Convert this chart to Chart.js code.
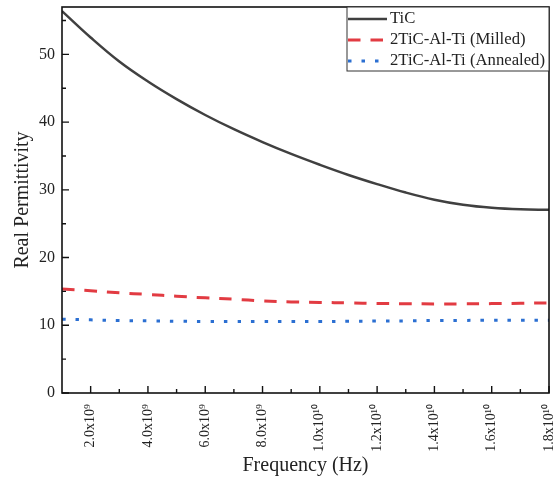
<!DOCTYPE html>
<html>
<head>
<meta charset="utf-8">
<script src="https://cdn.jsdelivr.net/npm/chart.js@4"></script>
<style>
  html, body { margin: 0; padding: 0; background: #fff; }
  #wrap { width: 558px; height: 479px; }
</style>
</head>
<body>
<div id="wrap"><canvas id="permChart"></canvas></div>
<script>
// frequency sweep, Hz
const freqs = [1e9, 2e9, 3e9, 4e9, 5e9, 6e9, 7e9, 8e9, 9e9, 1e10,
               1.1e10, 1.2e10, 1.3e10, 1.4e10, 1.5e10, 1.6e10, 1.7e10, 1.8e10];

// real part of permittivity for each sample
const ticC     = [56.4, 52.5, 48.95, 46.0, 43.4, 41.05, 38.95, 37.05, 35.3, 33.7,
                  32.2, 30.85, 29.6, 28.55, 27.8, 27.35, 27.12, 27.05];
const milled   = [15.35, 15.1, 14.8, 14.55, 14.3, 14.05, 13.85, 13.6, 13.45, 13.38,
                  13.3, 13.22, 13.18, 13.16, 13.16, 13.2, 13.25, 13.3];
const annealed = [10.9, 10.8, 10.7, 10.65, 10.6, 10.55, 10.55, 10.55, 10.55, 10.55,
                  10.6, 10.62, 10.65, 10.7, 10.72, 10.75, 10.75, 10.75];

const xTickValues = [2e9, 4e9, 6e9, 8e9, 1e10, 1.2e10, 1.4e10, 1.6e10, 1.8e10];
const xTickLabels = ["2.0x10\u2079", "4.0x10\u2079", "6.0x10\u2079", "8.0x10\u2079",
                     "1.0x10\u00b9\u2070", "1.2x10\u00b9\u2070", "1.4x10\u00b9\u2070",
                     "1.6x10\u00b9\u2070", "1.8x10\u00b9\u2070"];
const xMinorTicks = [3e9, 5e9, 7e9, 9e9, 1.1e10, 1.3e10, 1.5e10, 1.7e10];
const yTickValues = [0, 10, 20, 30, 40, 50];
const yMinorTicks = [5, 15, 25, 35, 45, 55];

const serif = "'Liberation Serif', 'Times New Roman', serif";

function toPoints(ys) {
    return freqs.map((f, i) => ({ x: f, y: ys[i] }));
}

// axes frame, inward tick marks and the boxed legend
const framePlugin = {
    id: "frame",
    afterDraw(chart) {
        const ctx = chart.ctx;
        const a = chart.chartArea;
        const xs = chart.scales.x, ys = chart.scales.y;
        ctx.save();
        ctx.strokeStyle = "#111";
        ctx.lineWidth = 1.6;
        ctx.strokeRect(a.left, a.top, a.right - a.left, a.bottom - a.top);

        ctx.lineWidth = 1.4;
        ctx.beginPath();
        xTickValues.forEach(v => {
            const px = xs.getPixelForValue(v);
            ctx.moveTo(px, a.bottom); ctx.lineTo(px, a.bottom - 7);
        });
        xMinorTicks.forEach(v => {
            const px = xs.getPixelForValue(v);
            ctx.moveTo(px, a.bottom); ctx.lineTo(px, a.bottom - 4);
        });
        yTickValues.forEach(v => {
            const py = ys.getPixelForValue(v);
            ctx.moveTo(a.left, py); ctx.lineTo(a.left + 7, py);
        });
        yMinorTicks.forEach(v => {
            const py = ys.getPixelForValue(v);
            ctx.moveTo(a.left, py); ctx.lineTo(a.left + 4, py);
        });
        ctx.stroke();

        // legend
        const lx = 347, ly = a.top, lw = a.right - lx, lh = 64;
        ctx.fillStyle = "#fff";
        ctx.fillRect(lx, ly, lw, lh);
        ctx.lineWidth = 1;
        ctx.strokeStyle = "#333";
        ctx.strokeRect(lx, ly, lw, lh);
        ctx.font = "16.7px " + serif;
        ctx.textBaseline = "middle";
        ctx.textAlign = "left";
        chart.data.datasets.forEach((ds, i) => {
            const cy = ly + 12 + i * 21;
            ctx.strokeStyle = ds.borderColor;
            ctx.lineWidth = ds.borderWidth;
            ctx.setLineDash(ds.borderDash || []);
            ctx.beginPath();
            ctx.moveTo(lx + 1, cy);
            ctx.lineTo(lx + 40, cy);
            ctx.stroke();
            ctx.setLineDash([]);
            ctx.fillStyle = "#222";
            ctx.fillText(ds.label, lx + 43, cy);
        });
        ctx.restore();
    }
};

new Chart(document.getElementById("permChart"), {
    type: "line",
    data: {
        datasets: [{
            label: "TiC",
            data: toPoints(ticC),
            borderColor: "#404040",
            borderWidth: 2.5
        }, {
            label: "2TiC-Al-Ti (Milled)",
            data: toPoints(milled),
            borderColor: "#e23b42",
            borderWidth: 3,
            borderDash: [12.5, 10]
        }, {
            label: "2TiC-Al-Ti (Annealed)",
            data: toPoints(annealed),
            borderColor: "#2b6fd2",
            borderWidth: 3,
            borderDash: [3.5, 10]
        }]
    },
    options: {
        responsive: true,
        maintainAspectRatio: false,
        animation: false,
        layout: { padding: { top: 7, right: 9, left: 0, bottom: 0 } },
        elements: {
            point: { radius: 0 },
            line: { tension: 0.4, fill: false }
        },
        plugins: {
            legend: { display: false },
            tooltip: { enabled: false }
        },
        scales: {
            x: {
                type: "linear",
                min: 1e9,
                max: 1.8e10,
                afterBuildTicks: s => { s.ticks = xTickValues.map(v => ({ value: v })); },
                afterFit: s => { s.height = 86; s.paddingLeft = 0; s.paddingRight = 0; },
                grid: { display: false, drawTicks: false },
                border: { display: false },
                ticks: {
                    minRotation: 90,
                    maxRotation: 90,
                    padding: 11,
                    color: "#222",
                    font: { family: serif, size: 14 },
                    callback: v => xTickLabels[xTickValues.indexOf(v)]
                },
                title: {
                    display: true,
                    text: "Frequency (Hz)",
                    color: "#222",
                    font: { family: serif, size: 20 },
                    padding: { top: 0, bottom: 1 }
                }
            },
            y: {
                min: 0,
                max: 57,
                afterBuildTicks: s => { s.ticks = yTickValues.map(v => ({ value: v })); },
                afterFit: s => { s.width = 62; s.paddingTop = 0; s.paddingBottom = 0; },
                grid: { display: false, drawTicks: false },
                border: { display: false },
                ticks: {
                    padding: 7,
                    color: "#222",
                    font: { family: serif, size: 16 }
                },
                title: {
                    display: true,
                    text: "Real Permittivity",
                    color: "#222",
                    font: { family: serif, size: 20 },
                    padding: { top: 11, bottom: 0 }
                }
            }
        }
    },
    plugins: [framePlugin]
});
</script>
</body>
</html>
